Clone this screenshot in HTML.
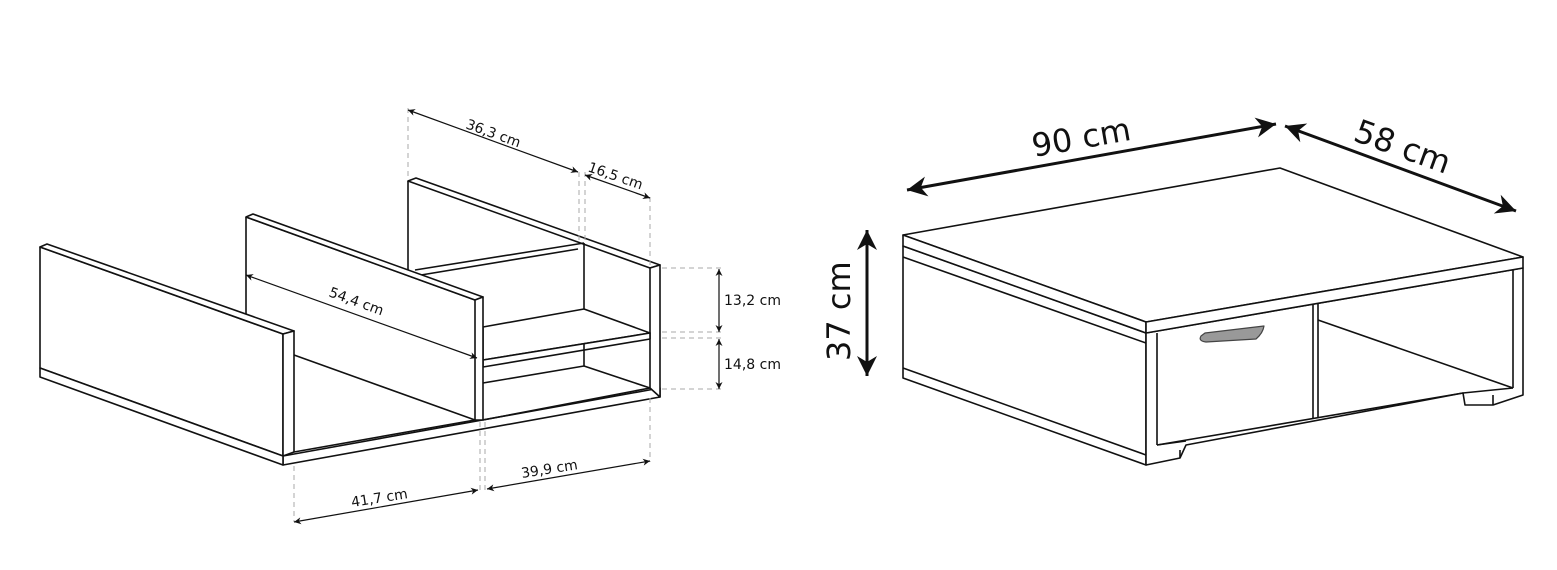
<!DOCTYPE html>
<html><head><meta charset="utf-8"><style>
html,body{margin:0;padding:0;background:#fff;}
svg{display:block;}
text{font-family:"DejaVu Sans","Liberation Sans",sans-serif;fill:#111;}
</style></head><body>
<svg width="1557" height="570" viewBox="0 0 1557 570" xmlns="http://www.w3.org/2000/svg">
<defs>
<marker id="a" viewBox="0 0 10 10" refX="10" refY="5" markerWidth="9" markerHeight="7" orient="auto-start-reverse" markerUnits="userSpaceOnUse"><path d="M0,0 L10,5 L0,10 L3,5 z" fill="#111"/></marker>
<marker id="b" viewBox="0 0 10 10" refX="10" refY="5" markerWidth="34" markerHeight="20" orient="auto-start-reverse" markerUnits="userSpaceOnUse"><path d="M0,0 L10,5 L0,10 L3,5 z" fill="#111"/></marker>
</defs>
<g fill="#fff" stroke="#111" stroke-width="1.6" stroke-linejoin="round">
<!-- LEFT UNIT -->
<polygon points="283,456 660,388 660,397 283,465"/>
<!-- right back panel -->
<polygon points="408,181 650,268 650,388 408,300" stroke="none"/>
<line x1="408" y1="181" x2="408" y2="272"/>
<polygon points="408,181 416,178 660,265 650,268"/>
<polygon points="650,268 660,265 660,397 650,388"/>
<!-- shelves -->
<line x1="415" y1="270" x2="584" y2="243"/>
<line x1="415" y1="276" x2="578" y2="249"/>
<line x1="584" y1="243" x2="584" y2="309"/>
<polygon points="483,327 584,309 650,333 483,360"/>
<polygon points="483,360 650,333 650,339 483,367"/>
<line x1="584" y1="343" x2="584" y2="366"/>
<polyline points="483,383 584,366 650,388" fill="none"/>
<line x1="483" y1="420" x2="650" y2="388"/>
<!-- middle panel -->
<polygon points="246,217 475,300 475,420 246,336" stroke="none"/>
<line x1="246" y1="217" x2="246" y2="330"/>
<line x1="246" y1="217" x2="475" y2="300"/>
<polygon points="246,217 253,214 483,297 475,300"/>
<polygon points="475,300 483,297 483,420 475,420"/>
<line x1="294" y1="355" x2="475" y2="420"/>
<!-- left panel -->
<polygon points="40,247 283,334 283,456 40,368"/>
<polygon points="40,247 47,244 294,331 283,334"/>
<polygon points="283,334 294,331 294,452 283,456"/>
<polygon points="40,368 283,456 283,465 40,377"/>
<line x1="294" y1="452" x2="475" y2="420"/>
</g>
<g stroke="#aaa" stroke-width="1" stroke-dasharray="5,4" fill="none">
<line x1="408" y1="108" x2="408" y2="178"/>
<line x1="579" y1="172" x2="579" y2="243"/>
<line x1="585" y1="172" x2="585" y2="243"/>
<line x1="650" y1="197" x2="650" y2="265"/>
<line x1="662" y1="268" x2="722" y2="268"/>
<line x1="662" y1="332" x2="722" y2="332"/>
<line x1="662" y1="338" x2="722" y2="338"/>
<line x1="662" y1="389" x2="722" y2="389"/>
<line x1="650" y1="398" x2="650" y2="462"/>
<line x1="480" y1="422" x2="480" y2="492"/>
<line x1="485" y1="422" x2="485" y2="492"/>
<line x1="294" y1="466" x2="294" y2="522"/>
</g>
<g stroke="#111" stroke-width="1.2" fill="none">
<line x1="408" y1="110" x2="578" y2="172" marker-start="url(#a)" marker-end="url(#a)"/>
<line x1="585" y1="175" x2="650" y2="198" marker-start="url(#a)" marker-end="url(#a)"/>
<line x1="719" y1="269" x2="719" y2="332" marker-start="url(#a)" marker-end="url(#a)"/>
<line x1="719" y1="339" x2="719" y2="389" marker-start="url(#a)" marker-end="url(#a)"/>
<line x1="246" y1="275" x2="477" y2="358" marker-start="url(#a)" marker-end="url(#a)"/>
<line x1="294" y1="522" x2="478" y2="490" marker-start="url(#a)" marker-end="url(#a)"/>
<line x1="487" y1="489" x2="650" y2="461" marker-start="url(#a)" marker-end="url(#a)"/>
</g>
<g font-size="14">
<text transform="translate(465,128) rotate(20)">36,3 cm</text>
<text transform="translate(587,171) rotate(19)">16,5 cm</text>
<text x="724" y="305">13,2 cm</text>
<text x="724" y="369">14,8 cm</text>
<text transform="translate(328,296) rotate(20)">54,4 cm</text>
<text transform="translate(352,507) rotate(-9)">41,7 cm</text>
<text transform="translate(522,478) rotate(-9)">39,9 cm</text>
</g>
<!-- RIGHT TABLE -->
<g fill="#fff" stroke="#111" stroke-width="1.6" stroke-linejoin="round">
<polygon points="903,246 1146,333 1146,465 903,378"/>
<line x1="903" y1="257" x2="1146" y2="343"/>
<line x1="903" y1="368" x2="1146" y2="455"/>
<polygon points="1146,333 1523,268 1523,395 1493,405 1465,405 1463,393 1186,445 1180,458 1146,465"/>
<line x1="1157" y1="333" x2="1157" y2="445"/>
<line x1="1157" y1="445" x2="1186" y2="441"/>
<line x1="1513" y1="270" x2="1513" y2="388"/>
<line x1="1313" y1="305" x2="1313" y2="418"/>
<line x1="1318" y1="304" x2="1318" y2="417"/>
<line x1="1318" y1="320" x2="1513" y2="388"/>
<line x1="1157" y1="445" x2="1463" y2="393"/>
<line x1="1463" y1="393" x2="1513" y2="388"/>
<line x1="1493" y1="395" x2="1493" y2="405"/>
<line x1="1180" y1="450" x2="1180" y2="458"/>
<polygon points="903,235 1280,168 1523,257 1146,322"/>
<polygon points="903,235 1146,322 1146,333 903,246"/>
<polygon points="1146,322 1523,257 1523,268 1146,333"/>
<path d="M1201,336 Q1198,341 1206,342 L1256,339 Q1263,333 1264,326 L1205,333 Z" fill="#999" stroke="#444" stroke-width="1.2"/>
</g>
<g stroke="#111" stroke-width="3" fill="none">
<line x1="907" y1="190" x2="1276" y2="124" marker-start="url(#b)" marker-end="url(#b)"/>
<line x1="1285" y1="126" x2="1516" y2="211" marker-start="url(#b)" marker-end="url(#b)"/>
<line x1="867" y1="230" x2="867" y2="376" marker-start="url(#b)" marker-end="url(#b)"/>
</g>
<g font-size="32">
<text transform="translate(1034,157) rotate(-10)">90 cm</text>
<text transform="translate(1352,140) rotate(20)">58 cm</text>
<text transform="translate(850,361) rotate(-90)">37 cm</text>
</g>
</svg>
</body></html>
